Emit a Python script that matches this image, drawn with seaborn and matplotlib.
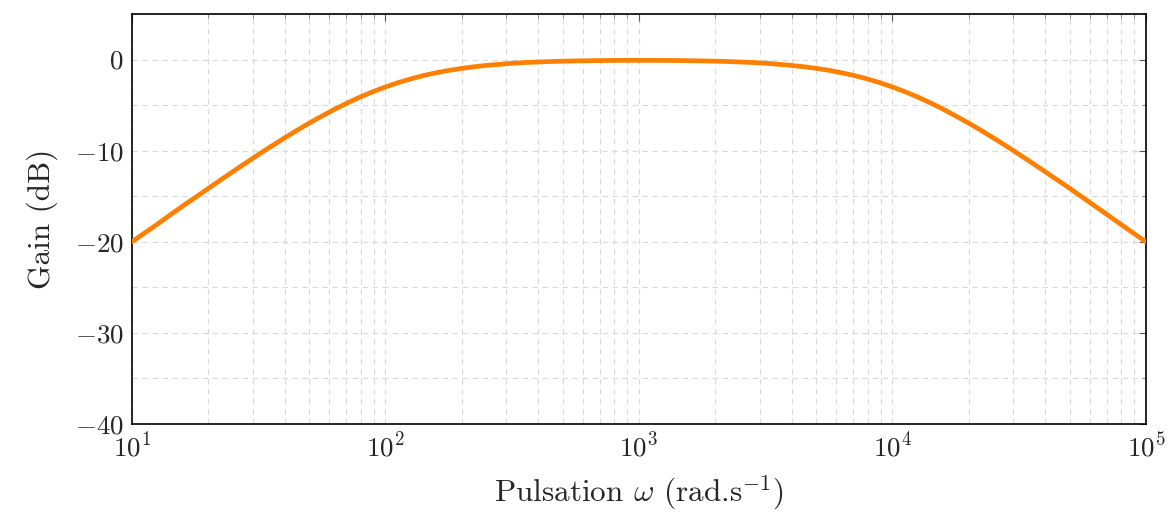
import matplotlib
matplotlib.use("Agg")
import matplotlib.pyplot as plt
import matplotlib.ticker as mticker
import seaborn as sns
import pandas as pd

# Gain curve, every twentieth of a decade
# (pulsation in rad/s, gain in dB)
pulsation = [10, 11.2, 12.6, 14.1, 15.8, 17.8, 20, 22.4, 25.1, 28.2,
             31.6, 35.5, 39.8, 44.7, 50.1, 56.2, 63.1, 70.8, 79.4, 89.1,
             100, 112, 126, 141, 158, 178, 200, 224, 251, 282,
             316, 355, 398, 447, 501, 562, 631, 708, 794, 891,
             1000, 1122, 1259, 1413, 1585, 1778, 1995, 2239, 2512, 2818,
             3162, 3548, 3981, 4467, 5012, 5623, 6310, 7079, 7943, 8913,
             10000, 11220, 12589, 14125, 15849, 17783, 19953, 22387, 25119, 28184,
             31623, 35481, 39811, 44668, 50119, 56234, 63096, 70795, 79433, 89125,
             100000]
gain_db = [-20.0, -19.05, -18.07, -17.08, -16.11, -15.13, -14.15, -13.21, -12.27, -11.33,
           -10.41, -9.51, -8.64, -7.78, -6.97, -6.20, -5.45, -4.76, -4.12, -3.54,
           -3.01, -2.54, -2.12, -1.76, -1.46, -1.19, -0.97, -0.79, -0.64, -0.52,
           -0.41, -0.33, -0.27, -0.22, -0.18, -0.15, -0.13, -0.11, -0.10, -0.09,
           -0.09, -0.09, -0.10, -0.11, -0.13, -0.15, -0.18, -0.22, -0.27, -0.33,
           -0.41, -0.52, -0.64, -0.79, -0.97, -1.19, -1.46, -1.76, -2.12, -2.54,
           -3.01, -3.54, -4.12, -4.76, -5.45, -6.20, -6.97, -7.78, -8.64, -9.51,
           -10.41, -11.33, -12.27, -13.21, -14.15, -15.13, -16.11, -17.08, -18.07, -19.05,
           -20.0]

y_ticks = [0, -10, -20, -30, -40]
x_label = r"Pulsation $\omega$ (rad.s$^{-1}$)"
y_label = "Gain (dB)"

sns.set_style("white")
plt.rcParams["mathtext.fontset"] = "cm"
plt.rcParams["font.family"] = ["cmr10", "DejaVu Serif"]
plt.rcParams["axes.formatter.use_mathtext"] = True

df = pd.DataFrame({"pulsation": pulsation, "gain": gain_db})

fig = plt.figure(figsize=(11.74, 5.14), dpi=100)
ax = fig.add_axes([0.1124, 0.1751, 0.8637, 0.7977])

sns.lineplot(data=df, x="pulsation", y="gain", ax=ax, color="#ff8000",
             linewidth=3.4, zorder=3)

ax.set_xscale("log")
ax.set_xlim(10, 1e5)
ax.set_ylim(-40, 5)

ax.xaxis.set_major_locator(mticker.LogLocator(base=10))
ax.xaxis.set_minor_locator(mticker.LogLocator(base=10, subs=range(2, 10)))
ax.xaxis.set_minor_formatter(mticker.NullFormatter())
ax.set_yticks(y_ticks)
ax.yaxis.set_minor_locator(mticker.MultipleLocator(5))
ax.yaxis.set_major_formatter(mticker.FuncFormatter(lambda v, p: r"$%d$" % v))

ax.grid(True, which="both", axis="both", color="#d9d9d9", linestyle=(0, (5, 4)),
        linewidth=0.8)
ax.set_axisbelow(True)

ax.tick_params(which="major", direction="in", length=5, width=0.8, color="#555555",
               top=True, right=True, labelsize=19.5, pad=6)
ax.tick_params(which="minor", direction="in", length=3, width=0.6, color="#777777",
               top=True, right=True)

for s in ax.spines.values():
    s.set_color("black")
    s.set_linewidth(1.2)

ax.set_xlabel(x_label, fontsize=22.5, labelpad=8)
ax.set_ylabel(y_label, fontsize=22.5, labelpad=12)

fig.savefig("out.png", dpi=100)
